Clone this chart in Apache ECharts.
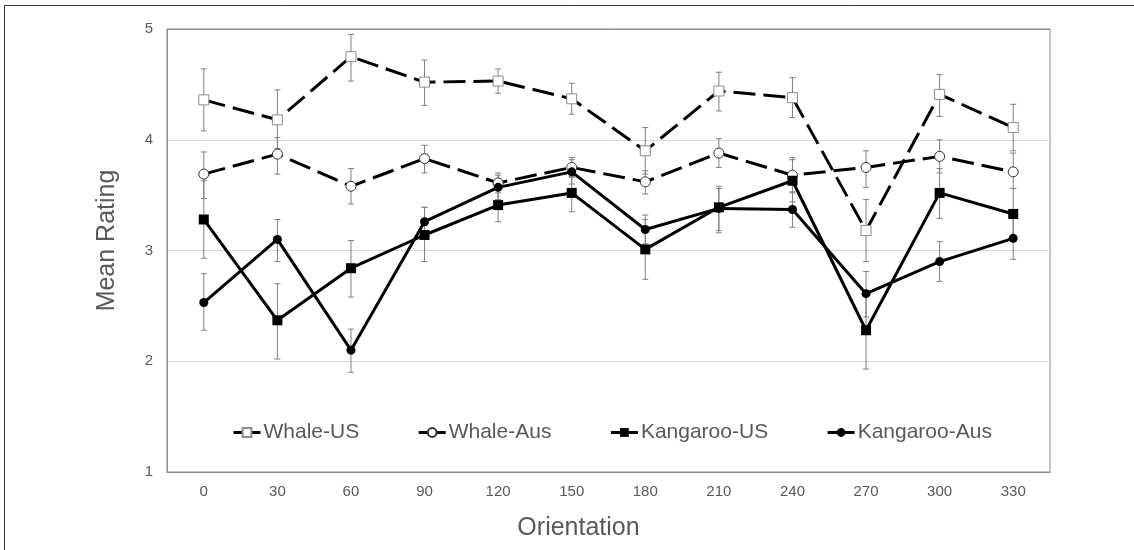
<!DOCTYPE html>
<html>
<head>
<meta charset="utf-8">
<script src="https://cdn.jsdelivr.net/npm/echarts@6/dist/echarts.min.js"></script>
<style>
html,body{margin:0;padding:0;background:#fff;}
#chart{width:1134px;height:550px;}
</style>
</head>
<body>
<div id="chart"></div>
<script>
var categories = ['0','30','60','90','120','150','180','210','240','270','300','330'];
var yTicks = [1,2,3,4,5];

var whaleUS     = [4.36,4.18,4.75,4.52,4.53,4.37,3.90,4.44,4.38,3.18,4.41,4.11];
var whaleUSLow  = [4.08,3.92,4.53,4.31,4.42,4.23,3.69,4.26,4.20,2.90,4.21,3.90];
var whaleUSHigh = [4.64,4.45,4.95,4.72,4.64,4.51,4.11,4.61,4.56,3.46,4.59,4.32];

var whaleAus     = [3.69,3.87,3.58,3.83,3.61,3.75,3.62,3.88,3.68,3.75,3.85,3.71];
var whaleAusLow  = [3.47,3.69,3.42,3.70,3.52,3.66,3.51,3.75,3.52,3.57,3.70,3.56];
var whaleAusHigh = [3.89,4.02,3.74,3.95,3.70,3.84,3.72,4.01,3.84,3.90,4.00,3.88];

var kangUS     = [3.28,2.37,2.84,3.14,3.41,3.52,3.01,3.39,3.63,2.28,3.52,3.33];
var kangUSLow  = [2.93,2.02,2.58,2.90,3.26,3.35,2.74,3.16,3.44,1.93,3.29,3.10];
var kangUSHigh = [3.63,2.70,3.09,3.39,3.56,3.67,3.28,3.58,3.82,2.62,3.74,3.56];

var kangAus     = [2.53,3.10,2.10,3.26,3.57,3.71,3.19,3.38,3.37,2.61,2.90,3.11];
var kangAusLow  = [2.28,2.90,1.90,3.13,3.46,3.60,3.06,3.18,3.21,2.40,2.72,2.92];
var kangAusHigh = [2.79,3.28,2.29,3.39,3.68,3.82,3.32,3.56,3.53,2.81,3.08,3.29];

var seriesNames = ['Whale-US','Whale-Aus','Kangaroo-US','Kangaroo-Aus'];

function errData(low, high) {
  return low.map(function (l, i) { return [i, l, high[i]]; });
}

function errRender(params, api) {
  var x = api.value(0);
  var lo = api.coord([x, api.value(1)]);
  var hi = api.coord([x, api.value(2)]);
  var cap = 3;
  var st = { stroke: '#808080', lineWidth: 1 };
  return {
    type: 'group',
    children: [
      { type: 'line', shape: { x1: lo[0], y1: lo[1], x2: hi[0], y2: hi[1] }, style: st },
      { type: 'line', shape: { x1: lo[0] - cap, y1: lo[1], x2: lo[0] + cap, y2: lo[1] }, style: st },
      { type: 'line', shape: { x1: hi[0] - cap, y1: hi[1], x2: hi[0] + cap, y2: hi[1] }, style: st }
    ]
  };
}

function errSeries(low, high) {
  return {
    type: 'custom',
    renderItem: errRender,
    data: errData(low, high),
    encode: { x: 0, y: [1, 2] },
    z: 1,
    silent: true,
    legendHoverLink: false
  };
}

var chart = echarts.init(document.getElementById('chart'), null, { renderer: 'canvas' });

var option = {
  animation: false,
  backgroundColor: '#ffffff',
  textStyle: { fontFamily: 'Liberation Sans, Arial, sans-serif' },
  graphic: [
    { type: 'rect', shape: { x: 4.5, y: 5.5, width: 1140, height: 560 },
      style: { fill: 'none', stroke: '#333', lineWidth: 1 }, silent: true, z: 0 }
  ],
  grid: {
    left: 167, right: 84, top: 29, bottom: 78,
    show: true, borderColor: '#8c8c8c', borderWidth: 1, backgroundColor: 'transparent'
  },
  legend: {
    left: 227, top: 417,
    itemWidth: 27, itemHeight: 11, itemGap: 58,
    textStyle: { fontSize: 21, color: '#595959', fontFamily: 'Liberation Sans, Arial, sans-serif', padding: [0,0,0,-2] },
    data: [
      { name: 'Whale-US', lineStyle: { type: 'solid', width: 3, color: '#000' } },
      { name: 'Whale-Aus', lineStyle: { type: 'solid', width: 3, color: '#000' } },
      { name: 'Kangaroo-US', lineStyle: { type: 'solid', width: 3, color: '#000' } },
      { name: 'Kangaroo-Aus', lineStyle: { type: 'solid', width: 3, color: '#000' } }
    ]
  },
  xAxis: {
    type: 'category',
    data: categories,
    boundaryGap: true,
    name: 'Orientation',
    nameLocation: 'middle',
    nameGap: 44,
    nameTextStyle: { fontSize: 25, color: '#595959', padding: [0, 60, 0, 0] },
    axisLine: { show: true, lineStyle: { color: '#8c8c8c', width: 1 } },
    axisTick: { show: false },
    axisLabel: { fontSize: 15, color: '#595959', margin: 12 },
    splitLine: { show: false }
  },
  yAxis: {
    type: 'value',
    min: yTicks[0], max: yTicks[yTicks.length - 1], interval: 1,
    name: 'Mean Rating',
    nameLocation: 'middle',
    nameGap: 47,
    nameTextStyle: { fontSize: 25, color: '#595959', padding: [0, 0, 0, 20] },
    axisLine: { show: true, lineStyle: { color: '#8c8c8c', width: 1 } },
    axisTick: { show: false },
    axisLabel: { fontSize: 15, color: '#595959', margin: 14 },
    splitLine: { show: true, lineStyle: { color: ['#8c8c8c', '#d9d9d9', '#d9d9d9', '#d9d9d9', '#8c8c8c'], width: 1 } }
  },
  series: [
    errSeries(whaleUSLow, whaleUSHigh),
    errSeries(whaleAusLow, whaleAusHigh),
    errSeries(kangUSLow, kangUSHigh),
    errSeries(kangAusLow, kangAusHigh),
    {
      name: seriesNames[0], type: 'line', data: whaleUS, z: 3,
      symbol: 'rect', symbolSize: 10,
      lineStyle: { color: '#000', width: 3, type: [22, 8] },
      itemStyle: { color: '#fff', borderColor: '#8c8c8c', borderWidth: 1 }
    },
    {
      name: seriesNames[1], type: 'line', data: whaleAus, z: 3,
      symbol: 'circle', symbolSize: 10,
      lineStyle: { color: '#000', width: 3, type: [22, 8] },
      itemStyle: { color: '#fff', borderColor: '#333', borderWidth: 1 }
    },
    {
      name: seriesNames[2], type: 'line', data: kangUS, z: 3,
      symbol: 'rect', symbolSize: 10,
      lineStyle: { color: '#000', width: 3, type: 'solid' },
      itemStyle: { color: '#000', borderColor: '#000', borderWidth: 0 }
    },
    {
      name: seriesNames[3], type: 'line', data: kangAus, z: 3,
      symbol: 'circle', symbolSize: 9,
      lineStyle: { color: '#000', width: 3, type: 'solid' },
      itemStyle: { color: '#000', borderColor: '#000', borderWidth: 0 }
    }
  ]
};

chart.setOption(option);
</script>
</body>
</html>
